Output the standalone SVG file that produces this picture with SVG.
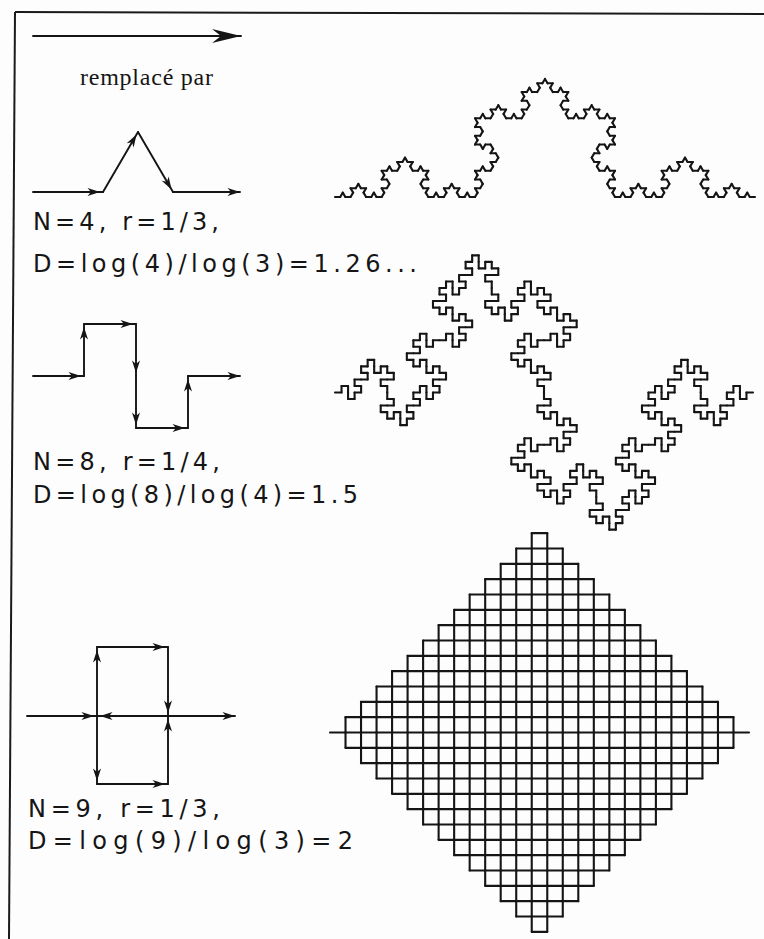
<svg xmlns="http://www.w3.org/2000/svg" width="764" height="939" viewBox="0 0 764 939">
<style>
.ln{stroke:#151515;stroke-width:1.9;fill:none;stroke-linecap:round;stroke-linejoin:round}
.fr{stroke:#1a1a1a;stroke-width:2;fill:none}
.seg{stroke:#151515;stroke-width:2.1;fill:none;stroke-linecap:round;vector-effect:non-scaling-stroke}
.lab{font-family:"DejaVu Sans","Liberation Sans",sans-serif;font-size:24px;fill:#151515}
.ser{font-family:"Liberation Serif",serif;font-size:24px;fill:#151515}
.ar{marker-end:url(#ah)}
.are{marker-end:url(#ahe)}
</style>
<defs>
<marker id="ah" markerUnits="userSpaceOnUse" markerWidth="16" markerHeight="10" viewBox="-14 -5 16 10" refX="3" refY="0" orient="auto"><path d="M0,0 L-12.5,-4 L-9,0 L-12.5,4 Z" fill="#151515"/></marker>
<marker id="ahe" markerUnits="userSpaceOnUse" markerWidth="16" markerHeight="10" viewBox="-14 -5 16 10" refX="0" refY="0" orient="auto"><path d="M0,0 L-12.5,-4 L-9,0 L-12.5,4 Z" fill="#151515"/></marker>
<marker id="big" markerUnits="userSpaceOnUse" markerWidth="32" markerHeight="18" viewBox="-30 -9 32 18" refX="0" refY="0" orient="auto"><path d="M0,0 L-29,-7 L-20,0 L-29,7 Z" fill="#151515"/></marker>
<path id="s" class="seg" d="M0,0 L1,0"/>
<g id="k1">
<use href="#s" transform="scale(0.3333333)"/>
<use href="#s" transform="translate(0.3333333,0) rotate(-60) scale(0.3333333)"/>
<use href="#s" transform="translate(0.5,-0.2886751) rotate(60) scale(0.3333333)"/>
<use href="#s" transform="translate(0.6666667,0) scale(0.3333333)"/>
</g>
<g id="k2">
<use href="#k1" transform="scale(0.3333333)"/>
<use href="#k1" transform="translate(0.3333333,0) rotate(-60) scale(0.3333333)"/>
<use href="#k1" transform="translate(0.5,-0.2886751) rotate(60) scale(0.3333333)"/>
<use href="#k1" transform="translate(0.6666667,0) scale(0.3333333)"/>
</g>
<g id="k3">
<use href="#k2" transform="scale(0.3333333)"/>
<use href="#k2" transform="translate(0.3333333,0) rotate(-60) scale(0.3333333)"/>
<use href="#k2" transform="translate(0.5,-0.2886751) rotate(60) scale(0.3333333)"/>
<use href="#k2" transform="translate(0.6666667,0) scale(0.3333333)"/>
</g>
<g id="k4">
<use href="#k3" transform="scale(0.3333333)"/>
<use href="#k3" transform="translate(0.3333333,0) rotate(-60) scale(0.3333333)"/>
<use href="#k3" transform="translate(0.5,-0.2886751) rotate(60) scale(0.3333333)"/>
<use href="#k3" transform="translate(0.6666667,0) scale(0.3333333)"/>
</g>
<g id="m1">
<use href="#s" transform="scale(0.25)"/>
<use href="#s" transform="translate(0.25,0) rotate(-90) scale(0.25)"/>
<use href="#s" transform="translate(0.25,-0.25) scale(0.25)"/>
<use href="#s" transform="translate(0.5,-0.25) rotate(90) scale(0.25)"/>
<use href="#s" transform="translate(0.5,0) rotate(90) scale(0.25)"/>
<use href="#s" transform="translate(0.5,0.25) scale(0.25)"/>
<use href="#s" transform="translate(0.75,0.25) rotate(-90) scale(0.25)"/>
<use href="#s" transform="translate(0.75,0) scale(0.25)"/>
</g>
<g id="m2">
<use href="#m1" transform="scale(0.25)"/>
<use href="#m1" transform="translate(0.25,0) rotate(-90) scale(0.25)"/>
<use href="#m1" transform="translate(0.25,-0.25) scale(0.25)"/>
<use href="#m1" transform="translate(0.5,-0.25) rotate(90) scale(0.25)"/>
<use href="#m1" transform="translate(0.5,0) rotate(90) scale(0.25)"/>
<use href="#m1" transform="translate(0.5,0.25) scale(0.25)"/>
<use href="#m1" transform="translate(0.75,0.25) rotate(-90) scale(0.25)"/>
<use href="#m1" transform="translate(0.75,0) scale(0.25)"/>
</g>
<g id="m3">
<use href="#m2" transform="scale(0.25)"/>
<use href="#m2" transform="translate(0.25,0) rotate(-90) scale(0.25)"/>
<use href="#m2" transform="translate(0.25,-0.25) scale(0.25)"/>
<use href="#m2" transform="translate(0.5,-0.25) rotate(90) scale(0.25)"/>
<use href="#m2" transform="translate(0.5,0) rotate(90) scale(0.25)"/>
<use href="#m2" transform="translate(0.5,0.25) scale(0.25)"/>
<use href="#m2" transform="translate(0.75,0.25) rotate(-90) scale(0.25)"/>
<use href="#m2" transform="translate(0.75,0) scale(0.25)"/>
</g>
<g id="p1">
<use href="#s" transform="scale(0.3333333)"/>
<use href="#s" transform="translate(0.3333333,0) rotate(-90) scale(0.3333333)"/>
<use href="#s" transform="translate(0.3333333,-0.3333333) scale(0.3333333)"/>
<use href="#s" transform="translate(0.6666667,-0.3333333) rotate(90) scale(0.3333333)"/>
<use href="#s" transform="translate(0.6666667,0) rotate(180) scale(0.3333333)"/>
<use href="#s" transform="translate(0.3333333,0) rotate(90) scale(0.3333333)"/>
<use href="#s" transform="translate(0.3333333,0.3333333) scale(0.3333333)"/>
<use href="#s" transform="translate(0.6666667,0.3333333) rotate(-90) scale(0.3333333)"/>
<use href="#s" transform="translate(0.6666667,0) scale(0.3333333)"/>
</g>
<g id="p2">
<use href="#p1" transform="scale(0.3333333)"/>
<use href="#p1" transform="translate(0.3333333,0) rotate(-90) scale(0.3333333)"/>
<use href="#p1" transform="translate(0.3333333,-0.3333333) scale(0.3333333)"/>
<use href="#p1" transform="translate(0.6666667,-0.3333333) rotate(90) scale(0.3333333)"/>
<use href="#p1" transform="translate(0.6666667,0) rotate(180) scale(0.3333333)"/>
<use href="#p1" transform="translate(0.3333333,0) rotate(90) scale(0.3333333)"/>
<use href="#p1" transform="translate(0.3333333,0.3333333) scale(0.3333333)"/>
<use href="#p1" transform="translate(0.6666667,0.3333333) rotate(-90) scale(0.3333333)"/>
<use href="#p1" transform="translate(0.6666667,0) scale(0.3333333)"/>
</g>
<g id="p3">
<use href="#p2" transform="scale(0.3333333)"/>
<use href="#p2" transform="translate(0.3333333,0) rotate(-90) scale(0.3333333)"/>
<use href="#p2" transform="translate(0.3333333,-0.3333333) scale(0.3333333)"/>
<use href="#p2" transform="translate(0.6666667,-0.3333333) rotate(90) scale(0.3333333)"/>
<use href="#p2" transform="translate(0.6666667,0) rotate(180) scale(0.3333333)"/>
<use href="#p2" transform="translate(0.3333333,0) rotate(90) scale(0.3333333)"/>
<use href="#p2" transform="translate(0.3333333,0.3333333) scale(0.3333333)"/>
<use href="#p2" transform="translate(0.6666667,0.3333333) rotate(-90) scale(0.3333333)"/>
<use href="#p2" transform="translate(0.6666667,0) scale(0.3333333)"/>
</g>
</defs>
<rect width="764" height="939" fill="#fdfdfd"/>
<g id="frame">
<line class="fr" x1="15" y1="12" x2="764" y2="14"/>
<line class="fr" x1="15" y1="12" x2="9" y2="939"/>
</g>
<g id="legend">
<line class="ln" x1="33" y1="36" x2="241" y2="36" stroke-width="2.3" marker-end="url(#big)"/>
<text class="ser" x="80" y="85" textLength="133" lengthAdjust="spacing">remplacé par</text>
</g>
<g id="koch-generator">
<line class="ln ar" x1="33" y1="192" x2="103" y2="192"/>
<line class="ln ar" x1="103" y1="192" x2="138" y2="132"/>
<line class="ln ar" x1="138" y1="132" x2="173" y2="192"/>
<line class="ln are" x1="173" y1="192" x2="240" y2="192"/>
<text class="lab" x="33" y="230" textLength="186" lengthAdjust="spacing">N=4, r=1/3,</text>
<text class="lab" x="33" y="272" textLength="384" lengthAdjust="spacing">D=log(4)/log(3)=1.26...</text>
</g>
<g id="koch-curve">
<use href="#k4" transform="translate(335,197) scale(420,409)"/>
</g>
<g id="quadratic-generator">
<line class="ln ar" x1="33" y1="376" x2="84" y2="376"/>
<line class="ln ar" x1="84" y1="376" x2="84" y2="324"/>
<line class="ln ar" x1="84" y1="324" x2="136" y2="324"/>
<line class="ln ar" x1="136" y1="324" x2="136" y2="376"/>
<line class="ln ar" x1="136" y1="376" x2="136" y2="428"/>
<line class="ln ar" x1="136" y1="428" x2="188" y2="428"/>
<line class="ln ar" x1="188" y1="428" x2="188" y2="376"/>
<line class="ln are" x1="188" y1="376" x2="240" y2="376"/>
<text class="lab" x="33" y="470" textLength="187" lengthAdjust="spacing">N=8, r=1/4,</text>
<text class="lab" x="33" y="503" textLength="325" lengthAdjust="spacing">D=log(8)/log(4)=1.5</text>
</g>
<g id="quadratic-curve">
<use href="#m3" transform="translate(335,392.5) scale(418)"/>
</g>
<g id="peano-generator">
<line class="ln ar" x1="27" y1="716" x2="97" y2="716"/>
<line class="ln ar" x1="97" y1="716" x2="97" y2="647"/>
<line class="ln ar" x1="97" y1="647" x2="168" y2="647"/>
<line class="ln ar" x1="168" y1="647" x2="168" y2="716"/>
<line class="ln ar" x1="168" y1="716" x2="97" y2="716"/>
<line class="ln ar" x1="97" y1="716" x2="97" y2="784"/>
<line class="ln ar" x1="97" y1="784" x2="168" y2="784"/>
<line class="ln ar" x1="168" y1="784" x2="168" y2="716"/>
<line class="ln are" x1="168" y1="716" x2="235" y2="716"/>
<text class="lab" x="28" y="817" textLength="192" lengthAdjust="spacing">N=9, r=1/3,</text>
<text class="lab" x="28" y="849" textLength="325" lengthAdjust="spacing">D=log(9)/log(3)=2</text>
</g>
<g id="peano-curve">
<use href="#p3" transform="translate(330,732.5) scale(419,414)"/>
</g>
</svg>
